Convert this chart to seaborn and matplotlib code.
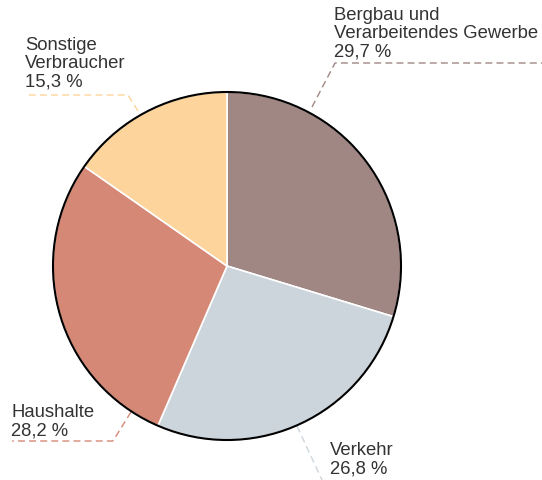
import matplotlib
matplotlib.use("Agg")
import matplotlib.pyplot as plt
import seaborn as sns
from matplotlib.patches import Circle

sns.set_theme(style="white")
plt.rcParams['font.family'] = ['Liberation Sans', 'DejaVu Sans']

# Data
categories = ["Bergbau und\nVerarbeitendes Gewerbe", "Verkehr", "Haushalte", "Sonstige\nVerbraucher"]
values = [29.7, 26.8, 28.2, 15.3]
value_labels = ["29,7 %", "26,8 %", "28,2 %", "15,3 %"]
colors = ["#a08784", "#cdd5dc", "#d68876", "#fdd49b"]

W, H = 542, 481
fig = plt.figure(figsize=(W / 100, H / 100), dpi=100)
ax = fig.add_axes([0, 0, 1, 1])

cx, cy, r = 227, H - 267, 174
wedges, _ = ax.pie(values, colors=colors, startangle=90, counterclock=False,
                   center=(cx, cy), radius=r, frame=False,
                   wedgeprops=dict(edgecolor="white", linewidth=1.2))
ax.add_patch(Circle((cx, cy), r, facecolor="none", edgecolor="black", linewidth=1.5, zorder=5))

ax.set_xlim(0, W)
ax.set_ylim(0, H)
ax.set_aspect("equal")
ax.axis("off")

def py(y):
    return H - y

# label layout (pixel coords from top-left): text anchor and leader polyline
layout = [
    dict(tx=334, ty=7, line=[(312, 108), (335, 64), (542, 64)]),
    dict(tx=330, ty=442, line=[(297, 427), (322, 481)]),
    dict(tx=11, ty=404, line=[(131, 413), (113, 442), (12, 442)]),
    dict(tx=25, ty=37, line=[(138, 112), (128, 96), (26, 96)]),
]

for cat, lab, col, lay in zip(categories, value_labels, colors, layout):
    ax.text(lay["tx"], py(lay["ty"]), f"{cat}\n{lab}", ha="left", va="top",
            fontsize=13.3, color="#333333", linespacing=1.08)
    xs = [p[0] for p in lay["line"]]
    ys = [py(p[1]) for p in lay["line"]]
    ax.plot(xs, ys, color=col, linewidth=1, linestyle=(0, (5, 3)), clip_on=False)

fig.savefig("out.png", dpi=100)
